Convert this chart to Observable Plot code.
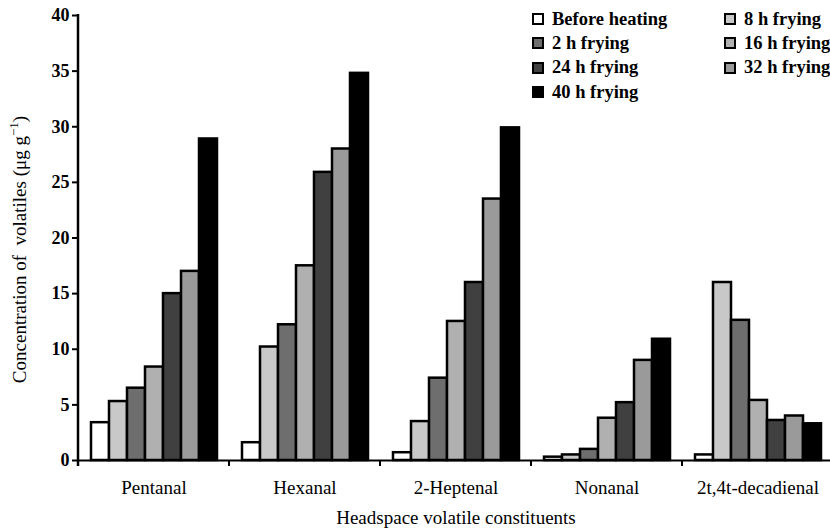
<!DOCTYPE html>
<html><head><meta charset="utf-8">
<script src="https://cdn.jsdelivr.net/npm/d3@7"></script>
<script src="https://cdn.jsdelivr.net/npm/@observablehq/plot@0.6"></script>
<style>
body{margin:0;overflow:hidden;background:#fff;}
#wrap{position:relative;width:830px;height:531px;overflow:hidden;font-family:"Liberation Serif",serif;color:#000;}
#wrap svg{position:absolute;left:0;top:0;}
#legend{position:absolute;left:532px;top:7px;display:grid;grid-template-columns:192px auto;grid-auto-rows:24.3px;font-weight:bold;font-size:18.5px;}
.item{display:flex;align-items:center;white-space:nowrap;}
.sw{width:12px;height:12px;box-sizing:border-box;border:2px solid #000;margin-right:8px;flex:none;}
#wrap g[aria-label="y-axis tick label"] text{font-weight:bold;font-size:18px;}
#wrap g[aria-label="y-axis tick"] *{stroke-width:2px;}
</style></head><body><div id="wrap"></div>
<script>
const compounds = ["Pentanal","Hexanal","2-Heptenal","Nonanal","2t,4t-decadienal"];
const series = ["Before heating","8 h frying","2 h frying","16 h frying","24 h frying","32 h frying","40 h frying"];
const colors = ["#ffffff","#c8c8c8","#6e6e6e","#b0b0b0","#404040","#9a9a9a","#000000"];
const beforeHeating = [3.4, 1.6, 0.7, 0.3, 0.5];
const frying8h  = [5.3, 10.2, 3.5, 0.5, 16.0];
const frying2h  = [6.5, 12.2, 7.4, 1.0, 12.6];
const frying16h = [8.4, 17.5, 12.5, 3.8, 5.4];
const frying24h = [15.0, 25.9, 16.0, 5.2, 3.6];
const frying32h = [17.0, 28.0, 23.5, 9.0, 4.0];
const frying40h = [28.9, 34.8, 29.9, 10.9, 3.3];
const yTicks = [0,5,10,15,20,25,30,35,40];
const yTitle = "Concentration of  volatiles (μg g";
const ySup = "−1";
const xTitle = "Headspace volatile constituents";

const seriesValues = [beforeHeating, frying8h, frying2h, frying16h, frying24h, frying32h, frying40h];
const data = [];
series.forEach((s, i) => compounds.forEach((c, j) => data.push({compound: c, series: s, value: seriesValues[i][j]})));

const chart = Plot.plot({
  width: 830, height: 531,
  marginLeft: 77, marginRight: -4, marginTop: 15, marginBottom: 71,
  style: {fontFamily: '"Liberation Serif",serif', fontSize: "19px", color: "#000", background: "transparent"},
  fx: {domain: compounds, padding: 0, axis: "bottom", label: null, tickSize: 0, tickPadding: 20},
  x: {domain: series, paddingInner: 0, paddingOuter: 0.68, axis: null},
  y: {domain: [0, 40], ticks: yTicks, tickSize: 6, tickPadding: 3, label: null},
  color: {domain: series, range: colors},
  marks: [
    Plot.barY(data, {fx: "compound", x: "series", y: "value", fill: "series", stroke: "#000", strokeWidth: 2.5}),
    Plot.ruleY([0], {stroke: "#000", strokeWidth: 2})
  ]
});

const wrap = document.getElementById("wrap");
wrap.appendChild(chart);

const svg = d3.select(chart);
const fx = chart.scale("fx");
const y = chart.scale("y");
const y0 = y.apply(0), yTop = y.apply(40);
const left = fx.apply(compounds[0]);
// y axis line
svg.append("line").attr("x1", left).attr("x2", left).attr("y1", yTop - 1).attr("y2", y0 + 6)
  .attr("stroke", "#000").attr("stroke-width", 2.5);
// group boundary ticks
const bounds = compounds.map(c => fx.apply(c)).concat([fx.apply(compounds[compounds.length - 1]) + fx.bandwidth]);
svg.append("g").selectAll("line").data(bounds).join("line")
  .attr("x1", d => d).attr("x2", d => d).attr("y1", y0).attr("y2", y0 + 6)
  .attr("stroke", "#000").attr("stroke-width", 2);
// y title
const yt = svg.append("text")
  .attr("transform", `translate(26,${(y0 + yTop) / 2 + 12}) rotate(-90)`)
  .attr("text-anchor", "middle").attr("font-size", 19).attr("fill", "#000");
yt.append("tspan").text(yTitle);
yt.append("tspan").attr("font-size", 13).attr("dy", -8).text(ySup);
yt.append("tspan").attr("dy", 8).text(")");
// x title
svg.append("text").attr("x", 456).attr("y", 524).attr("text-anchor", "middle")
  .attr("font-size", 19).attr("fill", "#000").text(xTitle);

// legend
const legend = d3.select(wrap).append("div").attr("id", "legend");
const items = legend.selectAll(".item").data(series).join("div").attr("class", "item");
items.append("span").attr("class", "sw").style("background", (d, i) => colors[i]);
items.append("span").text(d => d);
</script></body></html>
